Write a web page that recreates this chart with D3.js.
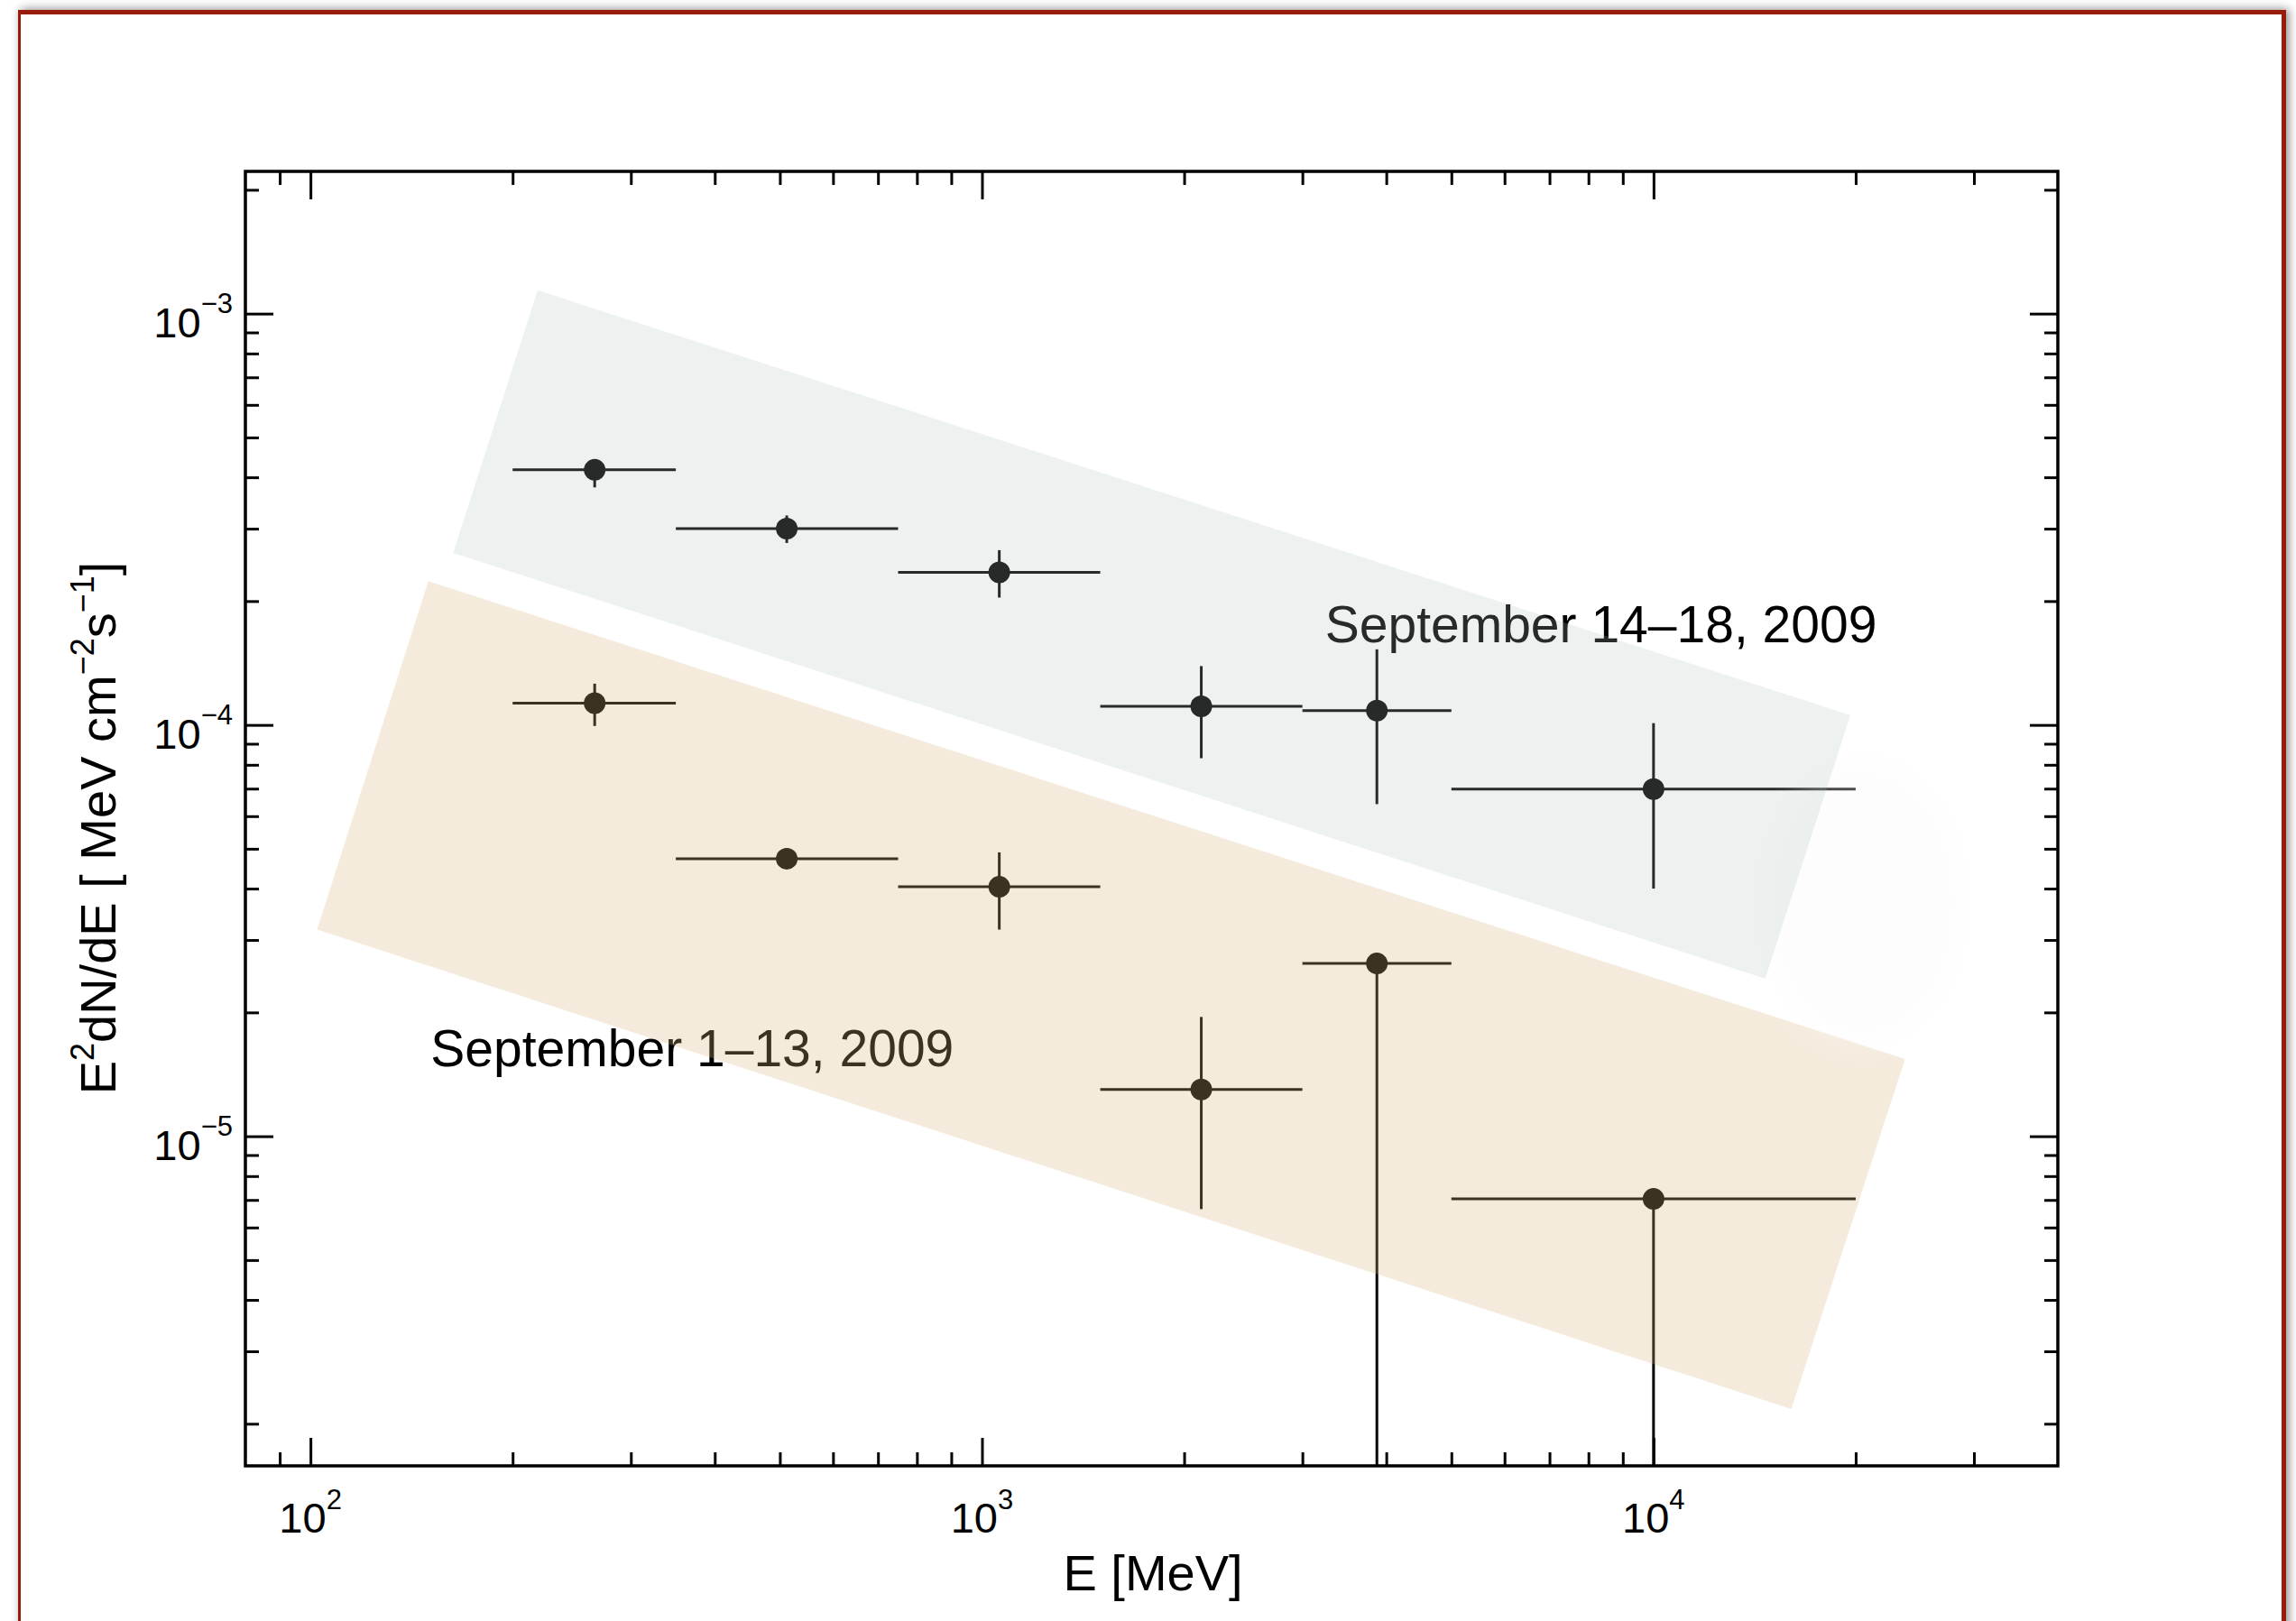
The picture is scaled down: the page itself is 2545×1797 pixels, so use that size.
<!DOCTYPE html>
<html><head><meta charset="utf-8">
<script src="https://cdn.jsdelivr.net/npm/d3@7"></script>
<style>
html,body{margin:0;padding:0;background:#fff;width:2545px;height:1797px;overflow:hidden;}
#frame{position:absolute;left:20px;top:11px;width:2514px;height:1900px;border-style:solid;border-color:#981b0b;border-width:5px 5px 5px 3px;box-shadow:3px -1px 10px rgba(0,0,0,0.45);box-sizing:border-box;background:#fff;}
svg{position:absolute;left:0;top:0;}
text{font-family:"Liberation Sans",Arial,Helvetica,sans-serif;fill:#000;}
</style></head><body>
<div id="frame"></div>
<svg id="chart" width="2545" height="1797"></svg>
<script>
// ---- data ----
const energy  = [265, 512, 1061, 2121, 3873, 10000];
const binLow  = [200, 350, 750, 1500, 3000, 5000];
const binHigh = [350, 750, 1500, 3000, 5000, 20000];

// September 14–18, 2009
const fluxLate = [4.17e-4, 3.00e-4, 2.35e-4, 1.11e-4, 1.084e-4, 6.98e-5];
const hiLate   = [4.41e-4, 3.23e-4, 2.66e-4, 1.39e-4, 1.527e-4, 1.01e-4];
const loLate   = [3.78e-4, 2.77e-4, 2.04e-4, 8.3e-5, 6.42e-5, 4.0e-5];

// September 1–13, 2009
const fluxEarly = [1.13e-4, 4.73e-5, 4.04e-5, 1.30e-5, 2.63e-5, 7.04e-6];
const hiEarly   = [1.26e-4, 4.93e-5, 4.9e-5, 1.95e-5, 2.72e-5, 7.1e-6];
const loEarly   = [9.94e-5, 4.55e-5, 3.18e-5, 6.65e-6, 1e-9, 1e-9];

// fit bands (corners in E, flux)
const bandLateE  = [217.9, 19640, 14670, 163.1];
const bandLateF  = [1.140e-3, 1.056e-4, 2.416e-5, 2.62e-4];
const bandEarlyE = [149.8, 23690, 16040, 102.3];
const bandEarlyF = [2.237e-4, 1.541e-5, 2.173e-6, 3.18e-5];

const labels = ["September 14\u201318, 2009", "September 1\u201313, 2009"];

// axes
const xDomain = [80, 40000];
const yDomain = [1.58e-6, 2.217e-3];
const xMajor = [100, 1000, 10000];
const xMajorExp = ["2", "3", "4"];
const xMinor = [90, 200, 300, 400, 500, 600, 700, 800, 900,
                2000, 3000, 4000, 5000, 6000, 7000, 8000, 9000, 20000, 30000];
const yMajor = [1e-5, 1e-4, 1e-3];
const yMajorExp = ["\u22125", "\u22124", "\u22123"];
const yMinor = [2e-6, 3e-6, 4e-6, 5e-6, 6e-6, 7e-6, 8e-6, 9e-6,
                2e-5, 3e-5, 4e-5, 5e-5, 6e-5, 7e-5, 8e-5, 9e-5,
                2e-4, 3e-4, 4e-4, 5e-4, 6e-4, 7e-4, 8e-4, 9e-4, 2e-3];

// ---- layout ----
const L = 272, R = 2281, T = 190, B = 1625;
const svg = d3.select("#chart");
const x = d3.scaleLog().domain(xDomain).range([L, R]);
const y = d3.scaleLog().domain(yDomain).range([B, T]).clamp(true);

const gData = svg.append("g");

function series(flux, hi, lo) {
  const g = gData.append("g");
  energy.forEach((e, i) => {
    g.append("line").attr("x1", x(binLow[i])).attr("x2", x(binHigh[i]))
      .attr("y1", y(flux[i])).attr("y2", y(flux[i]))
      .attr("stroke", "#000").attr("stroke-width", 3);
    g.append("line").attr("x1", x(e)).attr("x2", x(e))
      .attr("y1", y(lo[i])).attr("y2", y(hi[i]))
      .attr("stroke", "#000").attr("stroke-width", 3);
    g.append("circle").attr("cx", x(e)).attr("cy", y(flux[i])).attr("r", 12).attr("fill", "#000");
  });
}
series(fluxLate, hiLate, loLate);
series(fluxEarly, hiEarly, loEarly);

// labels
gData.append("text").attr("x", x(3242)).attr("y", y(1.592e-4))
  .attr("font-size", 57).text(labels[0]);
gData.append("text").attr("x", x(151)).attr("y", y(1.483e-5))
  .attr("font-size", 57).text(labels[1]);

// bands (semi-transparent overlays)
function band(E, F, color, op) {
  const pts = E.map((e, i) => [x(e), y(F[i])]);
  svg.append("path").attr("d", d3.line()(pts) + "Z")
    .attr("fill", color).attr("fill-opacity", op);
}
band(bandEarlyE, bandEarlyF, "#d6b582", 0.276);

// very faint glow
const defs = svg.append("defs");
defs.append("filter").attr("id", "blur").attr("x", "-50%").attr("y", "-50%")
  .attr("width", "200%").attr("height", "200%")
  .append("feGaussianBlur").attr("stdDeviation", 14);
svg.append("ellipse").attr("cx", x(20500)).attr("cy", y(3.71e-5))
  .attr("rx", 115).attr("ry", 160).attr("fill", "#fafafa").attr("fill-opacity", 0.3)
  .attr("filter", "url(#blur)");

band(bandLateE, bandLateF, "#aec5bc", 0.218);

// ---- axes ----
function ax(gen, tx, ty, vals, size) {
  const g = svg.append("g").attr("transform", `translate(${tx},${ty})`)
    .call(gen.tickValues(vals).tickSize(size).tickFormat(""));
  g.select(".domain").remove();
  g.selectAll(".tick line").attr("stroke", "#000").attr("stroke-width", 3);
}
ax(d3.axisBottom(x), 0, B, xMinor, -15);
ax(d3.axisBottom(x), 0, B, xMajor, -31);
ax(d3.axisTop(x), 0, T, xMinor, -15);
ax(d3.axisTop(x), 0, T, xMajor, -31);
ax(d3.axisLeft(y), L, 0, yMinor, -15);
ax(d3.axisLeft(y), L, 0, yMajor, -31);
ax(d3.axisRight(y), R, 0, yMinor, -15);
ax(d3.axisRight(y), R, 0, yMajor, -31);

svg.append("rect").attr("x", L).attr("y", T).attr("width", R - L).attr("height", B - T)
  .attr("fill", "none").attr("stroke", "#000").attr("stroke-width", 3.5);

// tick labels
xMajor.forEach((v, i) => {
  const t = svg.append("text").attr("x", x(v)).attr("y", B + 74)
    .attr("text-anchor", "middle").attr("font-size", 47);
  t.append("tspan").text("10");
  t.append("tspan").attr("dy", -26).attr("font-size", 31).text(xMajorExp[i]);
});
yMajor.forEach((v, i) => {
  const t = svg.append("text").attr("x", L - 14).attr("y", y(v) + 26)
    .attr("text-anchor", "end").attr("font-size", 47);
  t.append("tspan").text("10");
  t.append("tspan").attr("dy", -27).attr("font-size", 31).text(yMajorExp[i]);
});

// axis titles
svg.append("text").attr("x", 1278).attr("y", 1763).attr("text-anchor", "middle")
  .attr("font-size", 56).text("E [MeV]");

const yt = svg.append("text").attr("transform", "translate(128,918) rotate(-90)")
  .attr("text-anchor", "middle").attr("font-size", 56);
yt.append("tspan").text("E");
yt.append("tspan").attr("dy", -24).attr("font-size", 36).text("2");
yt.append("tspan").attr("dy", 24).text("dN/dE [ MeV cm");
yt.append("tspan").attr("dy", -24).attr("font-size", 36).text("\u22122");
yt.append("tspan").attr("dy", 24).text("s");
yt.append("tspan").attr("dy", -24).attr("font-size", 36).text("\u22121");
yt.append("tspan").attr("dy", 24).text("]");
</script>
</body></html>
